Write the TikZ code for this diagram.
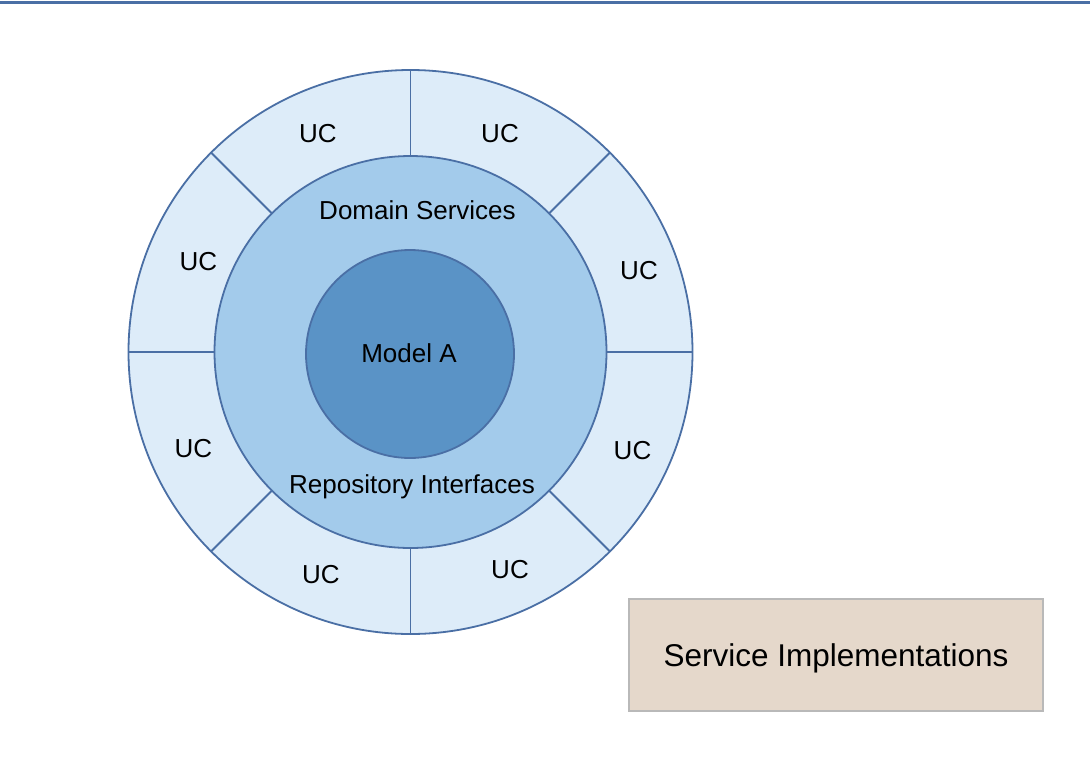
\documentclass[tikz,border=0pt]{standalone}
\usepackage{fontspec}
\setmainfont{Liberation Sans}
\definecolor{ringedge}{HTML}{4A6FA5}
\definecolor{outerfill}{HTML}{DDECF9}
\definecolor{midfill}{HTML}{A3CBEB}
\definecolor{innerfill}{HTML}{5A93C6}
\definecolor{boxfill}{HTML}{E5D8CB}
\definecolor{boxedge}{HTML}{B9B9B9}
\tikzset{
  ring/.style={circle, draw=ringedge, line width=1.8pt, inner sep=0pt, outer sep=0pt},
  lbl/.style={anchor=base, inner sep=0pt, font=\fontsize{26}{30}\selectfont},
  divider/.style={draw=ringedge, line width=1.8pt},
  implbox/.style={draw=boxedge, fill=boxfill, line width=1.5pt, minimum width=414pt, minimum height=112pt, inner sep=0pt, text depth=0pt, font=\fontsize{31.5}{36}\selectfont}
}
\begin{document}
\begin{tikzpicture}[x=1pt,y=-1pt]
\useasboundingbox (0,0) rectangle (1090,756);
\fill[white] (0,0) rectangle (1090,756);
% top rule
\coordinate (tl) at (0,2.5);
\coordinate (tr) at (1090,2.5);
\draw[ringedge, line width=2.5pt] (tl) -- (tr);
% rings
\coordinate (c) at (410.5,352);
\node[ring, fill=outerfill, minimum size=564pt] (outer) at (c) {};
\node[ring, fill=midfill, minimum size=392pt] (mid) at (c) {};
\node[ring, fill=innerfill, minimum size=208pt] (inner) at (410,354) {};
% dividers
\foreach \a in {0,45,...,315}{
  \draw[divider] (mid.\a) -- (outer.\a);
}
% labels
\node[lbl] (ds) at (417.5,219) {Domain Services};
\node[lbl] (ma) at (409,362) {Model A};
\node[lbl] (ri) at (412,493) {Repository Interfaces};
\node[lbl] (uc1) at (318,142) {UC};
\node[lbl] (uc2) at (500,142) {UC};
\node[lbl] (uc3) at (639,279) {UC};
\node[lbl] (uc4) at (632.5,459) {UC};
\node[lbl] (uc5) at (510,578) {UC};
\node[lbl] (uc6) at (321,583) {UC};
\node[lbl] (uc7) at (193.5,457) {UC};
\node[lbl] (uc8) at (198.5,270) {UC};
% service implementations
\node[implbox] (impl) at (836,655) {Service Implementations};
\end{tikzpicture}
\end{document}
